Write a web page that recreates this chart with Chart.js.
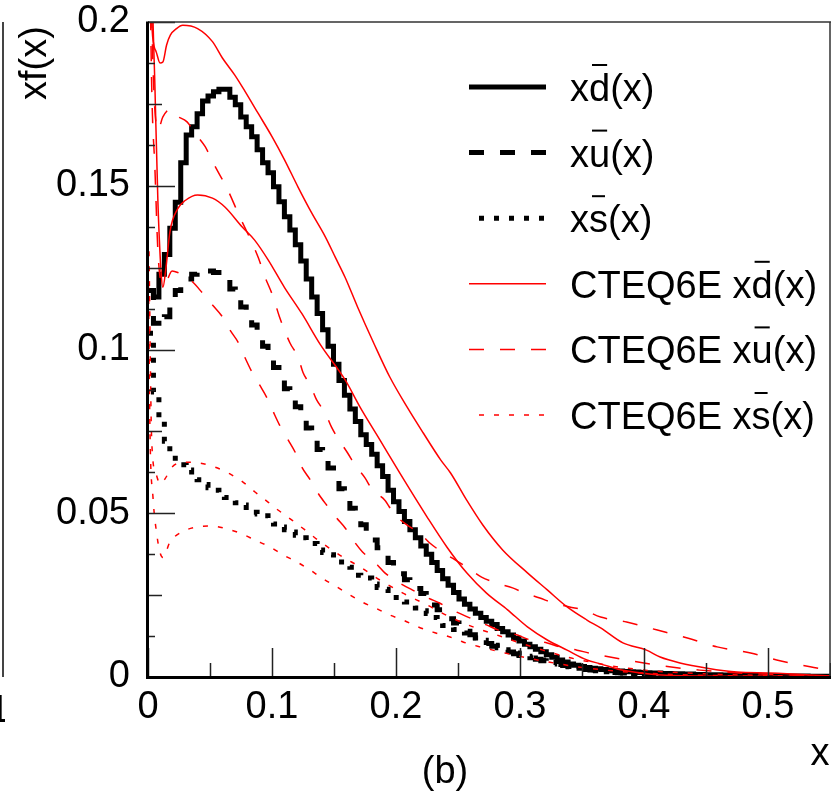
<!DOCTYPE html>
<html>
<head>
<meta charset="utf-8">
<script src="https://cdn.jsdelivr.net/npm/chart.js@4.4.1/dist/chart.umd.min.js"></script>
<style>
  html, body { margin: 0; padding: 0; background: #fff; }
  canvas { display: block; }
</style>
</head>
<body>
<canvas id="c" width="831" height="801"></canvas>
<script>
// ---------- data ----------
const BIN_W = 0.0044; // histogram bin width (125 bins over 0..0.55)

// x dbar(x) histogram
const XDBAR = [
  0.118, 0.116, 0.123, 0.129, 0.137, 0.145, 0.157, 0.1655, 0.168, 0.172,
  0.1759, 0.1774, 0.1787, 0.1795, 0.1795, 0.177, 0.1747, 0.171, 0.168, 0.165,
  0.161, 0.157, 0.154, 0.1497, 0.1451, 0.1405, 0.1365, 0.132, 0.127, 0.1215,
  0.116, 0.111, 0.106, 0.101, 0.0955, 0.0905, 0.086, 0.0818, 0.078, 0.074,
  0.071, 0.068, 0.0645, 0.0612, 0.057, 0.0535, 0.0505, 0.0475, 0.045, 0.0425,
  0.04, 0.0375, 0.035, 0.0325, 0.03, 0.028, 0.0258, 0.0238, 0.0222, 0.0208,
  0.0195, 0.0182, 0.017, 0.016, 0.0148, 0.0138, 0.0128, 0.0118, 0.011, 0.01,
  0.0092, 0.0085, 0.0077, 0.0068, 0.006, 0.0052, 0.0046, 0.004, 0.0036, 0.0032,
  0.0029, 0.0027, 0.0025, 0.0023, 0.0021, 0.0019, 0.0018, 0.0017, 0.0016, 0.0015,
  0.0014, 0.0013, 0.0012, 0.0012, 0.0011, 0.0011, 0.001, 0.001, 0.0009, 0.0009,
  0.0008, 0.0008, 0.0007, 0.0007, 0.0007, 0.0006, 0.0006, 0.0006, 0.0005, 0.0005,
  0.0005, 0.0005, 0.0004, 0.0004, 0.0004, 0.0004, 0.0003, 0.0003, 0.0003, 0.0003,
  0.0003, 0.0002, 0.0002, 0.0002, 0.0002
];

// x ubar(x) histogram
const XUBAR = [
  0.118, 0.108, 0.107, 0.11, 0.1135, 0.118, 0.12, 0.1215, 0.123, 0.124,
  0.1245, 0.124, 0.1235, 0.1225, 0.122, 0.1185, 0.1155, 0.113, 0.111, 0.1075,
  0.1045, 0.101, 0.0975, 0.0945, 0.0915, 0.088, 0.0855, 0.0825, 0.079, 0.076,
  0.0725, 0.0695, 0.067, 0.0638, 0.0605,
  0.0575, 0.0545, 0.0515, 0.049, 0.0465, 0.044, 0.0418, 0.0395, 0.0372, 0.035,
  0.0332, 0.0315, 0.0297, 0.0283, 0.027, 0.0255, 0.0237, 0.022, 0.0205, 0.0192,
  0.0178, 0.0165, 0.0152, 0.014, 0.0129, 0.012, 0.011, 0.0102, 0.0094, 0.0088,
  0.0082, 0.0076, 0.0071, 0.0066, 0.0062, 0.0058, 0.0054, 0.005, 0.0046, 0.0042,
  0.0038, 0.0035, 0.0032, 0.0029, 0.0026, 0.0023, 0.0021, 0.0019, 0.0017, 0.0015,
  0.0014, 0.0013, 0.0012, 0.0011, 0.001, 0.0009, 0.0008, 0.0008, 0.0007, 0.0007,
  0.0006, 0.0006, 0.0005, 0.0005, 0.0005, 0.0004, 0.0004, 0.0004, 0.0003, 0.0003,
  0.0003, 0.0003, 0.0002, 0.0002, 0.0002, 0.0002, 0.0002, 0.0001, 0.0001, 0.0001,
  0.0001, 0.0001, 0.0001, 0.0001, 0.0001, 0.0001, 0.0001, 0.0001, 0.0001, 0.0001
];

// x sbar(x) histogram
const XSBAR = [
  0.105, 0.087, 0.079, 0.072, 0.068, 0.066, 0.0648, 0.0632, 0.0617, 0.0602,
  0.0588, 0.0578, 0.057, 0.0556, 0.0548, 0.054, 0.0532, 0.0525, 0.051, 0.0503,
  0.0498, 0.0492, 0.048, 0.0467, 0.0458, 0.045, 0.0443, 0.0433, 0.0425, 0.0415,
  0.0408, 0.0388, 0.038, 0.0373, 0.0362, 0.0351, 0.0342, 0.0335, 0.0311, 0.0306,
  0.0302, 0.0284, 0.0273, 0.0268, 0.0264, 0.0243, 0.0236, 0.0229, 0.022, 0.0211,
  0.0202, 0.0194, 0.0182, 0.017, 0.0157, 0.0151, 0.0145, 0.014, 0.0134, 0.0127,
  0.0119, 0.0112, 0.0105, 0.0097, 0.0089, 0.0083, 0.0078, 0.0073, 0.0068, 0.0063,
  0.0059, 0.0055, 0.0052, 0.0048, 0.0044, 0.004, 0.0035, 0.0031, 0.0029, 0.0027,
  0.0024, 0.0022, 0.002, 0.0018, 0.0016, 0.0015, 0.0013, 0.0012, 0.0011, 0.001,
  0.0009, 0.0008, 0.0008, 0.0007, 0.0006, 0.0006, 0.0005, 0.0005, 0.0004, 0.0004,
  0.0004, 0.0003, 0.0003, 0.0003, 0.0003, 0.0002, 0.0002, 0.0002, 0.0002, 0.0002,
  0.0001, 0.0001, 0.0001, 0.0001, 0.0001, 0.0001, 0.0001, 0.0001, 0.0001, 0.0001,
  0.0001, 0.0001, 0.0001, 0.0001, 0.0001
];

// CTEQ6E error band edges
const CT_D_HI_X = [0.0008, 0.003, 0.0065, 0.0097, 0.012, 0.015, 0.018, 0.023, 0.028, 0.04,
  0.052, 0.06, 0.07, 0.078, 0.089, 0.1, 0.11, 0.121, 0.132, 0.143,
  0.151, 0.159, 0.169, 0.182, 0.195, 0.209, 0.222, 0.236, 0.244, 0.257,
  0.27, 0.286, 0.306, 0.322, 0.338, 0.354, 0.365, 0.383, 0.402, 0.413,
  0.429, 0.451, 0.475, 0.502, 0.55];
const CT_D_HI_Y = [0.26, 0.2, 0.191, 0.1875, 0.1878, 0.193, 0.196, 0.198, 0.199, 0.198,
  0.194, 0.189, 0.1838, 0.179, 0.172, 0.165, 0.158, 0.1496, 0.1417, 0.1344,
  0.1282, 0.122, 0.113, 0.102, 0.0916, 0.0824, 0.0745, 0.0663, 0.0623, 0.054,
  0.0464, 0.0388, 0.0318, 0.0266, 0.0214, 0.0174, 0.015, 0.0104, 0.0082, 0.0061,
  0.0043, 0.0027, 0.0015, 0.0012, 0.0003];

const CT_D_LO_X = [0.0008, 0.003, 0.0056, 0.008, 0.0105, 0.012, 0.0145, 0.0177, 0.024, 0.03,
  0.04, 0.052, 0.062, 0.076, 0.086, 0.097, 0.11, 0.124, 0.139, 0.159,
  0.171, 0.187, 0.203, 0.225, 0.241, 0.257, 0.273, 0.29, 0.306, 0.322,
  0.338, 0.354, 0.365, 0.381, 0.408, 0.445, 0.55];
const CT_D_LO_Y = [0.3, 0.22, 0.18, 0.145, 0.124, 0.119, 0.125, 0.136, 0.143, 0.1455,
  0.1472, 0.1462, 0.1435, 0.1374, 0.1334, 0.1273, 0.119, 0.111, 0.1015, 0.0907,
  0.0824, 0.0724, 0.0623, 0.0489, 0.0397, 0.0318, 0.0256, 0.0205, 0.0153, 0.0113,
  0.0082, 0.0052, 0.004, 0.0022, 0.0008, 0.0003, 0.0001];

const CT_U_HI_X = [0.0008, 0.004, 0.008, 0.012, 0.018, 0.022, 0.0315, 0.038, 0.046, 0.054,
  0.064, 0.074, 0.084, 0.089, 0.094, 0.101, 0.106, 0.1145, 0.121, 0.125,
  0.131, 0.136, 0.143, 0.148, 0.153, 0.161, 0.167, 0.175, 0.181, 0.191,
  0.198, 0.209, 0.219, 0.227, 0.237, 0.248, 0.258, 0.269, 0.281, 0.294,
  0.304, 0.316, 0.327, 0.34, 0.351, 0.365, 0.386, 0.41, 0.435, 0.459,
  0.486, 0.507, 0.534, 0.55];
const CT_U_HI_Y = [0.25, 0.187, 0.167, 0.171, 0.1734, 0.1716, 0.1695, 0.166, 0.162, 0.156,
  0.149, 0.1405, 0.1325, 0.128, 0.1225, 0.116, 0.11, 0.102, 0.0977, 0.093,
  0.089, 0.0846, 0.0806, 0.0763, 0.073, 0.0684, 0.0647, 0.0608, 0.0571, 0.054,
  0.05, 0.0464, 0.044, 0.041, 0.0382, 0.0357, 0.0333, 0.0305, 0.0287, 0.0272,
  0.0256, 0.0241, 0.0226, 0.0214, 0.0205, 0.0183, 0.0168, 0.0144, 0.0119, 0.0092,
  0.0073, 0.0052, 0.0031, 0.0021];

const CT_U_LO_X = [0.0008, 0.003, 0.0056, 0.008, 0.0113, 0.0145, 0.0194, 0.024, 0.036, 0.044,
  0.052, 0.06, 0.066, 0.073, 0.078, 0.084, 0.09, 0.096, 0.101, 0.106,
  0.113, 0.119, 0.124, 0.131, 0.137, 0.144, 0.152, 0.159, 0.167, 0.173,
  0.185, 0.191, 0.203, 0.213, 0.226, 0.235, 0.249, 0.258, 0.273, 0.282,
  0.298, 0.308, 0.322, 0.332, 0.346, 0.356, 0.381, 0.413, 0.445, 0.494,
  0.55];
const CT_U_LO_Y = [0.24, 0.18, 0.155, 0.13, 0.12, 0.1205, 0.124, 0.1235, 0.1206, 0.1172,
  0.1136, 0.11, 0.106, 0.102, 0.0977, 0.093, 0.0892, 0.0852, 0.081, 0.077,
  0.0724, 0.0684, 0.0641, 0.0601, 0.0562, 0.0525, 0.0486, 0.0455, 0.041, 0.0382,
  0.0342, 0.0318, 0.0287, 0.0266, 0.0241, 0.0226, 0.0198, 0.0183, 0.0159, 0.0144,
  0.0128, 0.0113, 0.0104, 0.0092, 0.0082, 0.0073, 0.0055, 0.0035, 0.0021, 0.0009,
  0.0003];

const CT_S_HI_X = [0.0008, 0.003, 0.0065, 0.0097, 0.0137, 0.0194, 0.0298, 0.0419, 0.054, 0.0661,
  0.0766, 0.0863, 0.0968, 0.1048, 0.1161, 0.1266, 0.1371, 0.1484, 0.1573, 0.171,
  0.1871, 0.2056, 0.225, 0.2435, 0.2621, 0.2815, 0.3, 0.3185, 0.3379, 0.3565,
  0.3806, 0.4129, 0.4613, 0.5097, 0.55];
const CT_S_HI_Y = [0.13, 0.072, 0.062, 0.059, 0.0605, 0.0641, 0.0656, 0.0653, 0.0641, 0.062,
  0.0595, 0.0565, 0.0534, 0.051, 0.0479, 0.0449, 0.0418, 0.0388, 0.0366, 0.0336,
  0.0296, 0.0256, 0.022, 0.0183, 0.0153, 0.0128, 0.0104, 0.0082, 0.0061, 0.0046,
  0.003, 0.0017, 0.0008, 0.0004, 0.0002];

const CT_S_LO_X = [0.0004, 0.0016, 0.004, 0.0073, 0.0097, 0.0121, 0.0177, 0.0274, 0.0395, 0.0516,
  0.0637, 0.0758, 0.0863, 0.0984, 0.1089, 0.1202, 0.1306, 0.1403, 0.1524, 0.1605,
  0.1726, 0.1831, 0.1952, 0.2056, 0.2177, 0.2298, 0.2435, 0.254, 0.2677, 0.2782,
  0.3, 0.3242, 0.3484, 0.3806, 0.429, 0.4855, 0.55];
const CT_S_LO_Y = [0.12, 0.075, 0.055, 0.043, 0.038, 0.0365, 0.0412, 0.0443, 0.0458, 0.0461,
  0.0452, 0.0437, 0.0418, 0.0397, 0.0373, 0.0351, 0.0327, 0.0302, 0.0275, 0.0256,
  0.0229, 0.0211, 0.0189, 0.0174, 0.0153, 0.0137, 0.0122, 0.0107, 0.0092, 0.0082,
  0.0063, 0.0045, 0.003, 0.0017, 0.0007, 0.0003, 0.0001];

// axes
const X_TICKS = [0, 0.1, 0.2, 0.3, 0.4, 0.5];
const X_TICK_LABELS = ['0', '0.1', '0.2', '0.3', '0.4', '0.5'];
const Y_TICKS = [0, 0.05, 0.1, 0.15, 0.2];
const Y_TICK_LABELS = ['0', '0.05', '0.1', '0.15', '0.2'];

const LEGEND_LABELS = [
  'xd\u0304(x)', 'xu\u0304(x)', 'xs\u0304(x)',
  'CTEQ6E xd\u0304(x)', 'CTEQ6E xu\u0304(x)', 'CTEQ6E xs\u0304(x)'
];

// ---------- styles ----------
const FAMILY = "'Liberation Sans', Arial, Helvetica, sans-serif";
const FONT_SIZE = 38;
const BLACK = '#000000';
const RED = '#ff0000';
const DASH = [15, 16];
const DOT = [5, 10];

const histPoints = vals => {
  const pts = vals.map((v, i) => ({ x: i * BIN_W, y: v }));
  pts.push({ x: vals.length * BIN_W, y: vals[vals.length - 1] });
  return pts;
};
const curve = (xs, ys) => xs.map((x, i) => ({ x, y: ys[i] }));

const hist = (label, vals, dash) => ({
  label, data: histPoints(vals), borderColor: BLACK, borderWidth: 5,
  borderDash: dash, stepped: 'before', borderJoinStyle: 'miter', order: 1,
});
const band = (label, xs, ys, dash) => ({
  label, data: curve(xs, ys), borderColor: RED, borderWidth: 1.5,
  borderDash: dash, cubicInterpolationMode: 'monotone', order: 0,
});

const datasets = [
  hist(LEGEND_LABELS[0], XDBAR, []),
  hist(LEGEND_LABELS[1], XUBAR, DASH),
  hist(LEGEND_LABELS[2], XSBAR, DOT),
  band(LEGEND_LABELS[3], CT_D_HI_X, CT_D_HI_Y, []),
  band(LEGEND_LABELS[3], CT_D_LO_X, CT_D_LO_Y, []),
  band(LEGEND_LABELS[4], CT_U_HI_X, CT_U_HI_Y, DASH),
  band(LEGEND_LABELS[4], CT_U_LO_X, CT_U_LO_Y, DASH),
  band(LEGEND_LABELS[5], CT_S_HI_X, CT_S_HI_Y, DOT),
  band(LEGEND_LABELS[5], CT_S_LO_X, CT_S_LO_Y, DOT),
];
const LEGEND_SETS = [0, 1, 2, 3, 5, 7];

// draws "xd̄(x)" style text with the bar at a fixed height, like ROOT's #bar{}
function barText(ctx, label, x, baseline) {
  const i = label.indexOf('\u0304');
  const head = label.slice(0, i - 1), base = label[i - 1], tail = label.slice(i + 1);
  ctx.fillText(head, x, baseline);
  const x1 = x + ctx.measureText(head).width;
  ctx.fillText(base, x1, baseline);
  const x2 = x1 + ctx.measureText(base).width;
  ctx.fillText(tail, x2, baseline);
  ctx.fillRect(x1 + 3, baseline - 37, x2 - x1 - 6, 2);
}

// ---------- frame, ticks, titles (ROOT style: ticks inside) ----------
const framePlugin = {
  id: 'frame',
  afterDatasetsDraw(chart) {
    const { ctx, chartArea: a, scales: { x, y } } = chart;
    ctx.save();
    ctx.strokeStyle = '#222';
    ctx.lineWidth = 1.5;
    ctx.beginPath();
    for (let v = 0; v <= 0.2001; v += 0.0125) {
      const py = Math.round(y.getPixelForValue(v)) + 0.5;
      const k = Math.round(v / 0.0125);
      const len = k % 4 === 0 ? 27 : (k % 2 === 0 ? 14 : 7);
      ctx.moveTo(a.left, py); ctx.lineTo(a.left + len, py);
    }
    for (let v = 0; v <= 0.5501; v += 0.05) {
      const px = Math.round(x.getPixelForValue(v)) + 0.5;
      const len = Math.round(v / 0.05) % 2 === 0 ? 29 : 14;
      ctx.moveTo(px, a.bottom); ctx.lineTo(px, a.bottom - len);
    }
    ctx.stroke();

    // top and right border
    ctx.lineWidth = 1.5;
    ctx.strokeStyle = '#333';
    ctx.beginPath();
    ctx.moveTo(a.left, a.top); ctx.lineTo(a.right + 1, a.top);
    ctx.moveTo(a.right, a.top); ctx.lineTo(a.right, a.bottom);
    ctx.stroke();

    // thick left and bottom axes
    ctx.lineWidth = 3;
    ctx.strokeStyle = '#000';
    ctx.beginPath();
    ctx.moveTo(a.left - 0.5, a.top - 0.5); ctx.lineTo(a.left - 0.5, a.bottom + 1.5);
    ctx.moveTo(a.left - 2, a.bottom + 0.5); ctx.lineTo(a.right + 1, a.bottom + 0.5);
    ctx.stroke();

    // edge of the neighbouring panel, with the tail of its last x label
    ctx.lineWidth = 2;
    ctx.strokeStyle = '#444';
    ctx.beginPath();
    ctx.moveTo(3, a.top); ctx.lineTo(3, a.bottom);
    ctx.stroke();

    ctx.fillStyle = '#000';
    ctx.font = `${FONT_SIZE}px ${FAMILY}`;
    ctx.textBaseline = 'alphabetic';
    ctx.save();
    ctx.beginPath();
    ctx.rect(0, 685, 5, 45);
    ctx.clip();
    ctx.textAlign = 'right';
    ctx.fillText('1', 10, 722);
    ctx.restore();

    // axis titles
    ctx.textAlign = 'center';
    ctx.fillText('x', 820, 765);
    ctx.fillText('(b)', 445, 783);
    ctx.translate(46, 63);
    ctx.rotate(-Math.PI / 2);
    ctx.fillText('xf(x)', 0, 0);
    ctx.restore();
  },
};

const legendPlugin = {
  id: 'legendRows',
  afterDraw(chart) {
    const ctx = chart.ctx;
    ctx.save();
    LEGEND_LABELS.forEach((label, i) => {
      const ds = chart.data.datasets[LEGEND_SETS[i]];
      const y = 87 + i * 65.6;
      const dotted = ds.borderDash.length && ds.borderDash[0] < 10;
      ctx.strokeStyle = ds.borderColor;
      ctx.lineWidth = ds.borderWidth;
      ctx.lineCap = 'butt';
      ctx.setLineDash(ds.borderDash);
      ctx.beginPath();
      ctx.moveTo(dotted ? 479 : 469, y);
      ctx.lineTo(546, y);
      ctx.stroke();
      ctx.setLineDash([]);
      ctx.fillStyle = '#000';
      ctx.font = `${FONT_SIZE}px ${FAMILY}`;
      ctx.textAlign = 'left';
      ctx.textBaseline = 'alphabetic';
      barText(ctx, label, 570, y + 14);
    });
    ctx.restore();
  },
};

const tickFont = { family: FAMILY, size: FONT_SIZE };

new Chart(document.getElementById('c').getContext('2d'), {
  type: 'line',
  data: { datasets },
  options: {
    responsive: false,
    animation: false,
    events: [],
    layout: { padding: { top: 22, right: 1, left: 0, bottom: 0 } },
    elements: { point: { radius: 0 }, line: { fill: false, borderCapStyle: 'butt' } },
    plugins: { legend: { display: false }, tooltip: { enabled: false } },
    scales: {
      x: {
        type: 'linear', min: 0, max: 0.55,
        grid: { display: false, drawTicks: false },
        border: { display: false },
        afterBuildTicks: s => { s.ticks = X_TICKS.map(value => ({ value })); },
        afterFit: s => { s.height = 124; s.paddingLeft = 0; s.paddingRight = 0; },
        ticks: {
          font: tickFont, color: '#000', padding: 8, maxRotation: 0, autoSkip: false,
          callback: (v, i) => X_TICK_LABELS[i],
        },
      },
      y: {
        type: 'linear', min: 0, max: 0.2,
        grid: { display: false, drawTicks: false },
        border: { display: false },
        afterBuildTicks: s => { s.ticks = Y_TICKS.map(value => ({ value })); },
        afterFit: s => { s.width = 148; s.paddingTop = 0; s.paddingBottom = 0; },
        ticks: {
          font: tickFont, color: '#000', padding: 18, autoSkip: false,
          callback: (v, i) => Y_TICK_LABELS[i],
        },
      },
    },
  },
  plugins: [framePlugin, legendPlugin],
});
</script>
</body>
</html>
